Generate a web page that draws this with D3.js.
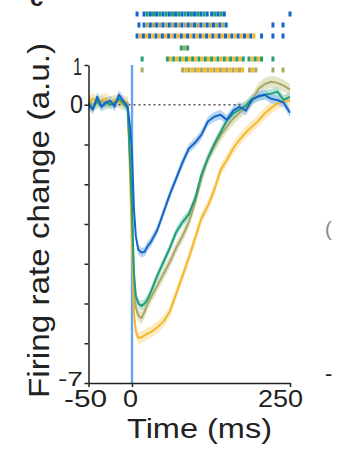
<!DOCTYPE html>
<html><head><meta charset="utf-8">
<script src="https://cdn.jsdelivr.net/npm/d3@7"></script>
<style>body{margin:0;background:#fff}svg{display:block}text{font-family:"Liberation Sans",Arial,sans-serif;fill:#222}</style>
</head><body>
<script>
// ---- data ----
const time = [-50,-45,-40,-35,-30,-25,-20,-15,-10,-5,-2,0,3,6,10,15,20,25,30,40,50,60,70,80,90,100,110,120,130,140,150,160,170,180,190,200,210,220,230,240,250];
const blueVals = [0.0,-0.12,0.2,-0.05,0.05,0.1,-0.05,0.25,0.1,-0.05,-0.6,-1.2,-2.6,-3.3,-3.65,-3.72,-3.7,-3.55,-3.45,-3.15,-2.7,-2.25,-1.85,-1.45,-1.1,-0.95,-0.75,-0.42,-0.3,-0.25,-0.38,-0.15,-0.05,-0.15,0.12,0.22,0.25,0.15,0.12,0.05,-0.2];
const greenVals = [0.05,-0.1,0.1,-0.05,0.08,0.0,0.05,0.15,0.05,-0.1,-1.5,-2.6,-4.2,-4.8,-5.0,-5.06,-5.0,-4.88,-4.7,-4.3,-3.95,-3.6,-3.2,-2.95,-2.75,-2.35,-1.75,-1.35,-1.0,-0.7,-0.4,-0.22,-0.12,-0.02,0.15,0.2,0.25,0.28,0.33,0.12,0.2];
const oliveVals = [0.1,0.0,0.05,0.1,0.0,0.08,0.05,0.1,0.0,0.05,-1.5,-2.8,-4.5,-5.1,-5.3,-5.37,-5.2,-5.0,-4.85,-4.55,-4.25,-3.95,-3.6,-3.3,-2.95,-2.45,-1.85,-1.35,-1.05,-0.78,-0.55,-0.35,-0.2,-0.05,0.1,0.4,0.52,0.58,0.55,0.48,0.38];
const yellowVals = [0.05,0.15,0.05,0.12,0.15,0.05,0.12,0.05,0.1,0.05,-2.0,-3.6,-5.2,-5.7,-5.87,-5.85,-5.8,-5.75,-5.72,-5.6,-5.45,-5.2,-4.75,-4.3,-3.85,-3.35,-2.85,-2.55,-2.15,-1.65,-1.39,-1.1,-0.88,-0.7,-0.55,-0.4,-0.22,-0.08,0.03,0.1,0.1];
const seriesNames = ["yellow","olive","green","blue"];
const seriesSem = [0.15,0.15,0.12,0.12];
const yTickValues = [-7,-6,-5,-4,-3,-2,-1,0,1];
const yTickLabels = ["-7","","","","","","","0","1"];
const xTickValues = [-50,0,250];
const xTickLabels = ["-50","0","250"];
// significance rasters: pair of series per row, intervals in ms
const rasterPairs = [["blue","green"],["blue","olive"],["blue","yellow"],["green","olive"],["green","yellow"],["olive","yellow"]];
const rasterIntervals = [
  [[8,10],[19,119],[126,150],[250,252]],
  [[11,13],[19,150],[223,225],[239,241]],
  [[8,197],[205,207],[223,225],[239,241]],
  [[78,88]],
  [[16,18],[56,180],[185,207],[223,225]],
  [[16,18],[80,178],[186,197],[223,225],[239,241]]
];

// ---- styles ----
const colors = {blue:"#1467c8", green:"#1f9e7a", olive:"#a9a866", yellow:"#f6b82a"};
const bandColors = {blue:"#9cc3ee", green:"#9ed8c3", olive:"#d9d8b0", yellow:"#fbe3a6"};

const W=347,H=450;
const svg=d3.select("body").append("svg").attr("width",W).attr("height",H);
const x=d3.scaleLinear().domain([-50,0,250]).range([88.5,132,290]);
const y=d3.scaleLinear().domain([-7,1]).range([383,65]);

const vals={blue:blueVals,green:greenVals,olive:oliveVals,yellow:yellowVals};

// bands
seriesNames.forEach((n,i)=>{
  const d=time.map((t,j)=>({t,v:vals[n][j]}));
  const s=seriesSem[i];
  svg.append("path").datum(d)
    .attr("d",d3.area().x(p=>x(p.t)).y0(p=>y(p.v-s)).y1(p=>y(p.v+s)))
    .attr("fill",bandColors[n]).attr("opacity",0.7);
});

// zero dotted line
svg.append("line").attr("x1",x(-50)).attr("x2",x(175)).attr("y1",y(0)).attr("y2",y(0))
  .attr("stroke","#555").attr("stroke-width",1.5).attr("stroke-dasharray","2,3");

// stimulus line
svg.append("line").attr("x1",x(0)).attr("x2",x(0)).attr("y1",y(1)).attr("y2",y(-7))
  .attr("stroke","#6aa3f2").attr("stroke-width",2.4);

// lines
seriesNames.forEach(n=>{
  const d=time.map((t,j)=>({t,v:vals[n][j]}));
  svg.append("path").datum(d)
    .attr("d",d3.line().x(p=>x(p.t)).y(p=>y(p.v)))
    .attr("fill","none").attr("stroke",colors[n]).attr("stroke-width",2).attr("stroke-linejoin","round");
});

// axes
const yAxis=d3.axisLeft(y).tickValues(yTickValues).tickFormat(()=>"").tickSize(4).tickSizeOuter(0);
const gy=svg.append("g").attr("transform","translate(88.5,0)").call(yAxis);
gy.selectAll("path,line").attr("stroke","#222").attr("stroke-width",1.5);
const xAxis=d3.axisBottom(x).tickValues(xTickValues).tickFormat(()=>"").tickSize(4).tickSizeOuter(0);
const gx=svg.append("g").attr("transform","translate(0,383)").call(xAxis);
gx.selectAll("path,line").attr("stroke","#222").attr("stroke-width",1.5);

// tick labels
const yl=[{v:1,lab:yTickLabels[8],x0:73,w:9,fs:23},{v:0,lab:yTickLabels[7],x0:70,w:13,fs:25},{v:-7,lab:yTickLabels[0],x0:58,w:25,fs:21}];
yl.forEach(o=>{
  svg.append("text").attr("x",o.x0).attr("y",y(o.v)+ (o.v===1?10:o.v===0?8:3))
    .attr("font-size",o.fs).attr("textLength",o.w).attr("lengthAdjust","spacingAndGlyphs").text(o.lab);
});
const xlW=[43,15,45];
xTickValues.forEach((v,i)=>{
  const cx = i===0?85.5:(i===1?130.5:280.5);
  svg.append("text").attr("x",cx-xlW[i]/2).attr("y",407)
    .attr("font-size",23).attr("textLength",xlW[i]).attr("lengthAdjust","spacingAndGlyphs").text(xTickLabels[i]);
});

// axis titles
svg.append("text").attr("x",127).attr("y",438).attr("font-size",28)
  .attr("textLength",145).attr("lengthAdjust","spacingAndGlyphs").text("Time (ms)");
svg.append("text").attr("transform","translate(49,398) rotate(-90)").attr("font-size",29)
  .attr("textLength",355).attr("lengthAdjust","spacingAndGlyphs").text("Firing rate change (a.u.)");

// rasters
const rowY=[14,25,36,48,59,70];
rasterPairs.forEach((pair,r)=>{
  rasterIntervals[r].forEach(iv=>{
    let k=0;
    for(let t=iv[0];t<=iv[1];t+=5){
      svg.append("rect").attr("x",x(t)-1.5).attr("y",rowY[r]-2.5).attr("width",3).attr("height",5)
        .attr("fill",colors[pair[k%2]]);
      k++;
    }
  });
});

// panel letter and clipped neighbours
svg.append("text").attr("x",30).attr("y",6).attr("font-size",24).attr("font-weight","bold").text("c");
svg.append("text").attr("x",325).attr("y",236).attr("font-size",20).style("fill","#888").text("(");
svg.append("text").attr("x",325).attr("y",381).attr("font-size",22).text("-");
</script>
</body></html>
